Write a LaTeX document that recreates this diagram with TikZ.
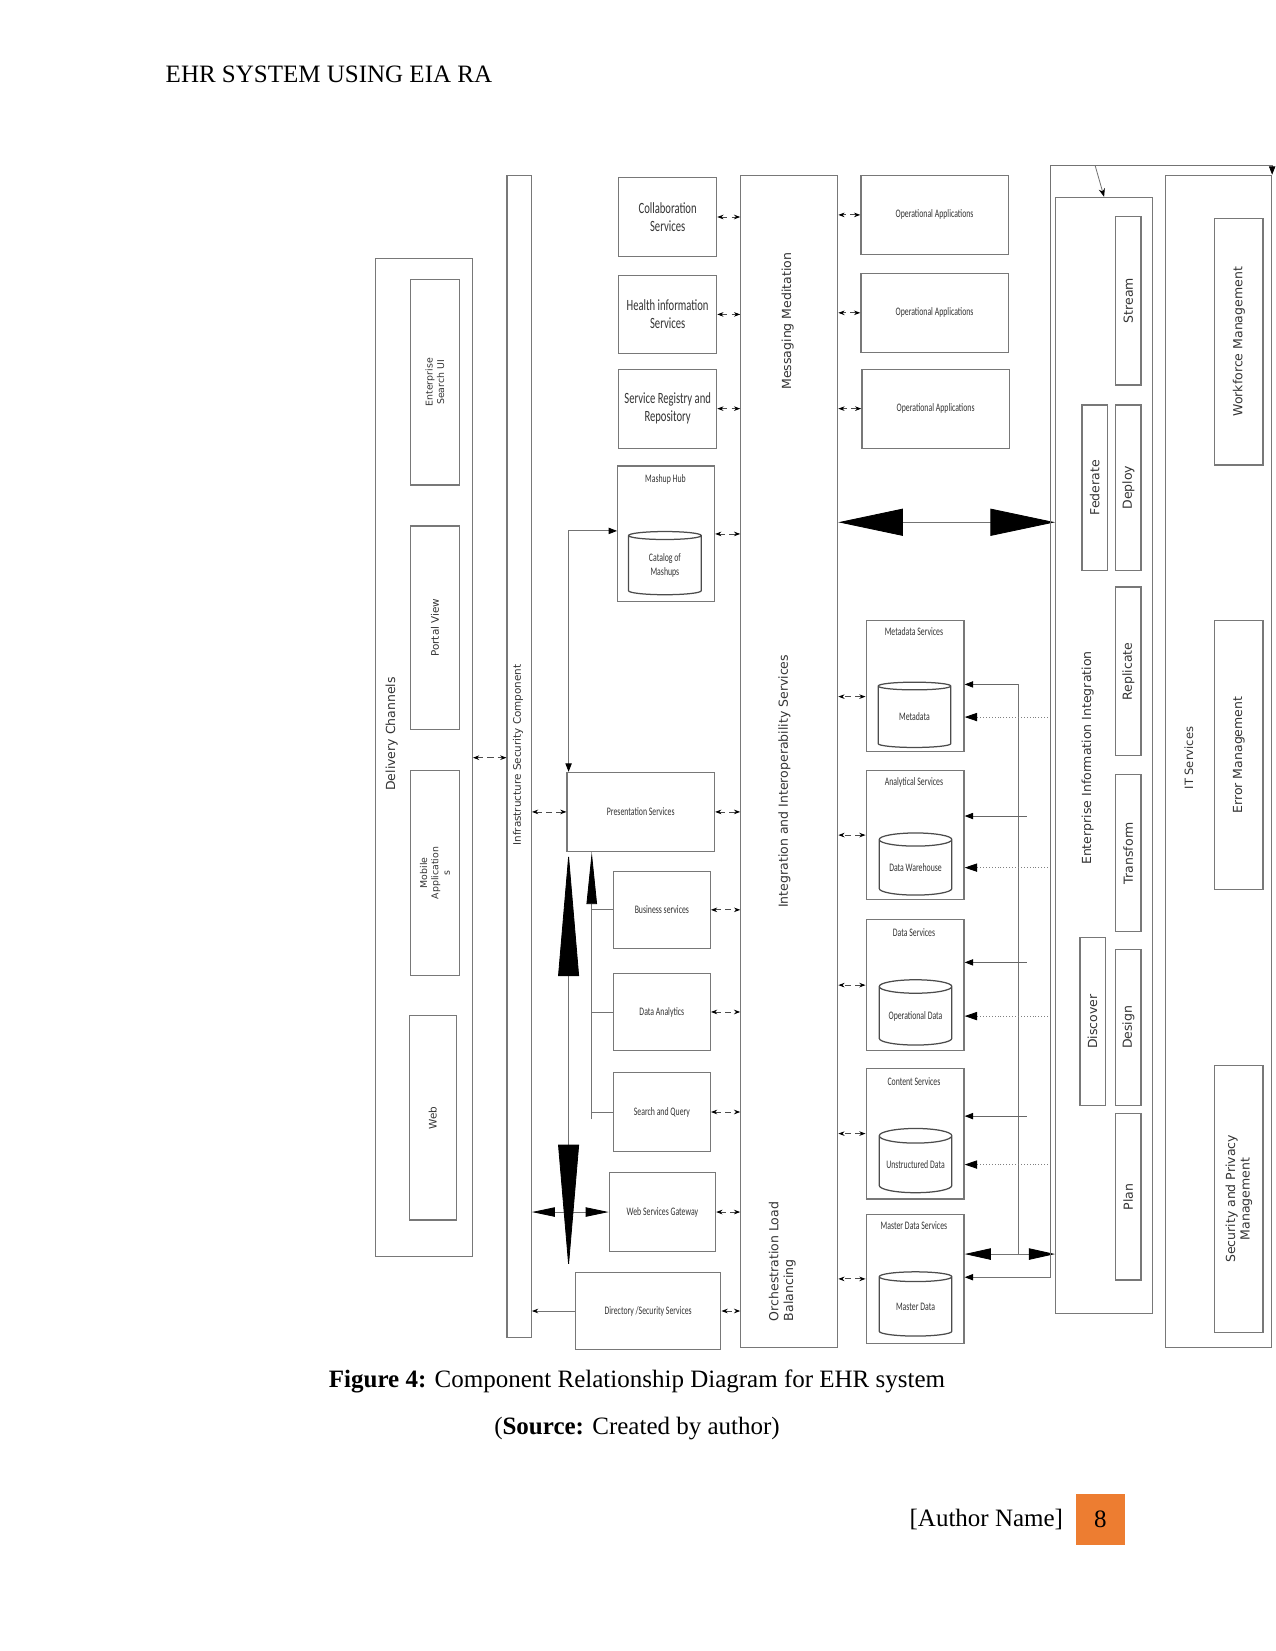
\documentclass[tikz,border=0pt]{standalone}
\usepackage{fontspec}
\setmainfont{Liberation Serif}
\newfontfamily\narrowsf[FakeStretch=0.68]{Carlito}
\newfontfamily\labelsf{DejaVu Sans}
\usepackage{tikz}
\usetikzlibrary{arrows.meta, positioning, calc, shapes.geometric}
\definecolor{orangePage}{RGB}{237,125,49}
\definecolor{greyBorder}{RGB}{120,120,120}
\def\pxu{0.5054pt}

\begin{document}
\begin{tikzpicture}[
    x=\pxu, y=-\pxu,
    every node/.style={text=black!80},
    sz/.style 2 args={minimum width=#1*\pxu, minimum height=#2*\pxu},
    block/.style={draw=greyBorder, line width=0.6pt, inner sep=1pt, anchor=north west, align=center},
    svcbox/.style={block, font=\narrowsf\fontsize{7.5}{8.5}\selectfont},
    smallbox/.style={block, font=\narrowsf\fontsize{5.5}{6.5}\selectfont},
    boxtitle/.style={font=\narrowsf\fontsize{5.5}{6.5}\selectfont},
    vtext/.style={rotate=90, font=\labelsf\fontsize{6}{7}\selectfont, align=center},
    store/.style={cylinder, shape border rotate=90, aspect=0.25, draw=black!70, line width=0.6pt, inner sep=0pt, font=\narrowsf\fontsize{5.5}{6.5}\selectfont, align=center},
    link/.style={black!70, line width=0.4pt, densely dashed, {Stealth[length=3pt,width=2.2pt,black]}-{Stealth[length=3pt,width=2.2pt,black]}},
    feed/.style={black!60, line width=0.4pt, -{Triangle[length=4pt,width=3pt,black]}},
    dotfeed/.style={black!50, line width=0.4pt, densely dotted, -{Triangle[length=6pt,width=4pt,black]}},
    thinline/.style={black!55, line width=0.4pt},
    pagetext/.style={text=black, inner sep=0pt, font=\fontsize{12}{14}\selectfont}
]
    \useasboundingbox (0,0) rectangle (1211,1568);

    % Page header
    \node[pagetext, anchor=west] (header) at (157,71) {EHR SYSTEM USING EIA RA};

    % Delivery channels
    \node[block, sz={92}{948}] (deliv) at (356,245) {};
    \node[vtext] (delivT) at (372,697) {Delivery Channels};
    \node[block, sz={47}{195}] (esui) at (389,265) {};
    \node[vtext, font=\labelsf\fontsize{4.5}{5.5}\selectfont] (esuiT) at (esui.center) {Enterprise\\Search UI};
    \node[block, sz={47}{193}] (portal) at (389,499) {};
    \node[vtext, font=\labelsf\fontsize{5}{6}\selectfont] (portalT) at (portal.center) {Portal View};
    \node[block, sz={47}{195}] (mobile) at (389,731) {};
    \node[vtext, font=\labelsf\fontsize{4.5}{5.5}\selectfont] (mobileT) at (mobile.center) {Mobile\\Application\\s};
    \node[block, sz={45}{194}] (web) at (388,964) {};
    \node[vtext, font=\labelsf\fontsize{5}{6}\selectfont] (webT) at (web.center) {Web};

    % Infrastructure security
    \node[block, sz={23}{1104}] (infra) at (481,166) {};
    \node[vtext, font=\labelsf\fontsize{5}{6}\selectfont] (infraT) at (492,717) {Infrastructure Security Component};

    % Service boxes
    \node[svcbox, sz={93}{75}] (collab) at (587,168) {Collaboration\\Services};
    \node[svcbox, sz={93}{74}] (health) at (587,261) {Health information\\Services};
    \node[svcbox, sz={93}{75}] (registry) at (587,350) {Service Registry and\\Repository};
    \node[block, sz={92}{129}] (mashup) at (586,442) {};
    \node[boxtitle] (mashupT) at (632,455) {Mashup Hub};
    \node[store, sz={69}{60}] (catalog) at (631.5,537) {Catalog of\\Mashups};
    \node[smallbox, sz={140}{75}] (pres) at (538,733) {Presentation Services};
    \node[smallbox, sz={92}{73}] (bus) at (582,827) {Business services};
    \node[smallbox, sz={92}{73}] (analytics) at (582,924) {Data Analytics};
    \node[smallbox, sz={92}{75}] (search) at (582,1018) {Search and Query};
    \node[smallbox, sz={101}{75}] (gateway) at (578,1113) {Web Services Gateway};
    \node[smallbox, sz={138}{73}] (directory) at (546,1208) {Directory /Security Services};

    % Integration bus
    \node[block, sz={92}{1113}] (integ) at (703,166) {};
    \node[vtext] (integT1) at (748,305) {Messaging Meditation};
    \node[vtext] (integT2) at (745,742) {Integration and Interoperability Services};
    \node[vtext, align=left] (integT3) at (743,1198) {Orchestration Load\\Balancing};

    % Operational applications
    \node[smallbox, sz={140}{75}] (opapp1) at (817,166) {Operational Applications};
    \node[smallbox, sz={140}{75}] (opapp2) at (817,259) {Operational Applications};
    \node[smallbox, sz={140}{75}] (opapp3) at (818,350) {Operational Applications};

    % Data services
    \node[block, sz={93}{124}] (meta) at (822,589) {};
    \node[boxtitle] (metaT) at (868,600) {Metadata Services};
    \node[store, sz={69}{62}] (mdata) at (868.5,681) {Metadata};
    \node[block, sz={93}{123}] (anal) at (822,731) {};
    \node[boxtitle] (analT) at (868,743) {Analytical Services};
    \node[store, sz={69}{59}] (dwh) at (869.5,824) {Data Warehouse};
    \node[block, sz={93}{124}] (dsvc) at (822,873) {};
    \node[boxtitle] (dsvcT) at (868,886) {Data Services};
    \node[store, sz={69}{62}] (opdata) at (869.5,965) {Operational Data};
    \node[block, sz={93}{124}] (cont) at (822,1014) {};
    \node[boxtitle] (contT) at (868,1027) {Content Services};
    \node[store, sz={69}{61}] (udata) at (869.5,1106) {Unstructured Data};
    \node[block, sz={93}{122}] (master) at (822,1153) {};
    \node[boxtitle] (masterT) at (868,1164) {Master Data Services};
    \node[store, sz={69}{61}] (mdm) at (869.5,1241) {Master Data};

    % Enterprise information integration
    \node[block, sz={92}{1060}] (eii) at (1002,187) {};
    \node[vtext] (eiiT) at (1033,720) {Enterprise Information Integration};
    \node[block, sz={24}{160}] (stream) at (1059,205) {};
    \node[vtext] (streamT) at (stream.center) {Stream};
    \node[block, sz={24}{157}] (deploy) at (1059,384) {};
    \node[vtext] (deployT) at (deploy.center) {Deploy};
    \node[block, sz={24}{157}] (federate) at (1027,384) {};
    \node[vtext] (federateT) at (federate.center) {Federate};
    \node[block, sz={24}{160}] (replicate) at (1059,557) {};
    \node[vtext] (replicateT) at (replicate.center) {Replicate};
    \node[block, sz={24}{149}] (transform) at (1059,735) {};
    \node[vtext] (transformT) at (transform.center) {Transform};
    \node[block, sz={24}{159}] (discover) at (1025,890) {};
    \node[vtext] (discoverT) at (discover.center) {Discover};
    \node[block, sz={24}{148}] (design) at (1059,901) {};
    \node[vtext] (designT) at (design.center) {Design};
    \node[block, sz={24}{158}] (plan) at (1059,1057) {};
    \node[vtext] (planT) at (plan.center) {Plan};

    % IT services
    \node[block, sz={101}{1113}] (itsvc) at (1106,166) {};
    \node[vtext, font=\labelsf\fontsize{5.5}{6.5}\selectfont] (itsvcT) at (1129,720) {IT Services};
    \node[block, sz={46}{234}] (workforce) at (1153,207) {};
    \node[vtext] (workforceT) at (workforce.center) {Workforce Management};
    \node[block, sz={46}{255}] (errmgmt) at (1153,589) {};
    \node[vtext] (errmgmtT) at (errmgmt.center) {Error Management};
    \node[block, sz={46}{254}] (secpriv) at (1153,1011) {};
    \node[vtext] (secprivT) at (secpriv.center) {Security and Privacy\\Management};

    % Links to the integration bus
    \foreach \n in {collab, health, registry, mashup, pres, bus, analytics, search, gateway, directory}
        \draw[link] (\n.east) -- (\n.east -| integ.west);
    \foreach \n in {opapp1, opapp2, opapp3, anal, dsvc, cont, master}
        \draw[link] (\n.west) -- (\n.west -| integ.east);
    \draw[link] ($(meta.west)+(0,10)$) -- ($(meta.west -| integ.east)+(0,10)$);

    % Left side links
    \draw[link] (deliv.east) -- (deliv.east -| infra.west);
    \draw[link] (pres.west) -- (pres.west -| infra.east);
    \draw[thinline, {Triangle[length=11pt,width=4.5pt,black]}-{Triangle[length=11pt,width=4.5pt,black]}] (gateway.west) -- (gateway.west -| infra.east);
    \draw[thinline, -{Stealth[length=3pt,width=2.2pt,black]}] (directory.west) -- (directory.west -| infra.east);
    \draw[thinline, {Triangle[length=4pt,width=3pt,black]}-{Triangle[length=4pt,width=3pt,black]}] ($(pres.north west)+(2,0)$) |- (mashup.west |- catalog.north);

    % Big triangles under presentation services
    \draw[thinline, {Triangle[length=59.6pt,width=10pt,black]}-{Triangle[length=59.6pt,width=10pt,black]}] ($(pres.south west)+(2,0)$) -- ($(directory.north west)+(-6,-3)$);
    \coordinate (trunk) at (562,1063);
    \draw[thinline, -{Triangle[length=25pt,width=5pt,black]}] (trunk) -- (trunk |- pres.south);
    \foreach \n in {bus, analytics, search}
        \draw[thinline] (trunk |- \n.west) -- (\n.west);

    % Integration bus to EII
    \coordinate (hubrow) at (900,496);
    \draw[thinline, {Triangle[length=31pt,width=13pt,black]}-{Triangle[length=31pt,width=13pt,black]}] (integ.east |- hubrow) -- (eii.west |- hubrow);

    % Feeds into the data services
    \coordinate (frame) at (998,157);
    \coordinate (tap) at (1040,157);
    \coordinate (f1) at (967,650);
    \coordinate (f2) at (975,775);
    \coordinate (f3) at (975,914);
    \coordinate (f4) at (975,1060);
    \coordinate (mrow) at (960,1191);
    \coordinate (mrow2) at (960,1213);
    \draw[thinline] (f1) -- (f1 |- mrow);
    \draw[feed] (f1) -- (f1 -| meta.east);
    \draw[feed] (f2) -- (f2 -| anal.east);
    \draw[feed] (f3) -- (f3 -| dsvc.east);
    \draw[feed] (f4) -- (f4 -| cont.east);
    \foreach \c in {mdata, dwh, opdata, udata}
        \draw[dotfeed] (frame |- \c.east) -- (\c.east -| meta.east);
    \draw[thinline, {Triangle[length=12.6pt,width=5.5pt,black]}-{Triangle[length=12.6pt,width=5.5pt,black]}] (master.east |- mrow) -- (eii.west |- mrow);
    \draw[thinline, {Triangle[length=4pt,width=3pt,black]}-{Triangle[length=4pt,width=3pt,black]}] (itsvc.north east) |- (frame) |- (master.east |- mrow2);
    \draw[thinline, -{Stealth[length=4pt,width=3pt,black]}] (tap) -- (eii.north);

    % Caption and footer
    \node[pagetext] (caption) at (605,1312) {\textbf{Figure 4:} Component Relationship Diagram for EHR system};
    \node[pagetext] (source) at (605,1357) {(\textbf{Source:} Created by author)};
    \node[pagetext, anchor=east] (author) at (1010,1443) {[Author Name]};
    \node[pagetext, fill=orangePage, sz={46}{48}] (pagenum) at (1045,1443) {8};

\end{tikzpicture}
\end{document}
